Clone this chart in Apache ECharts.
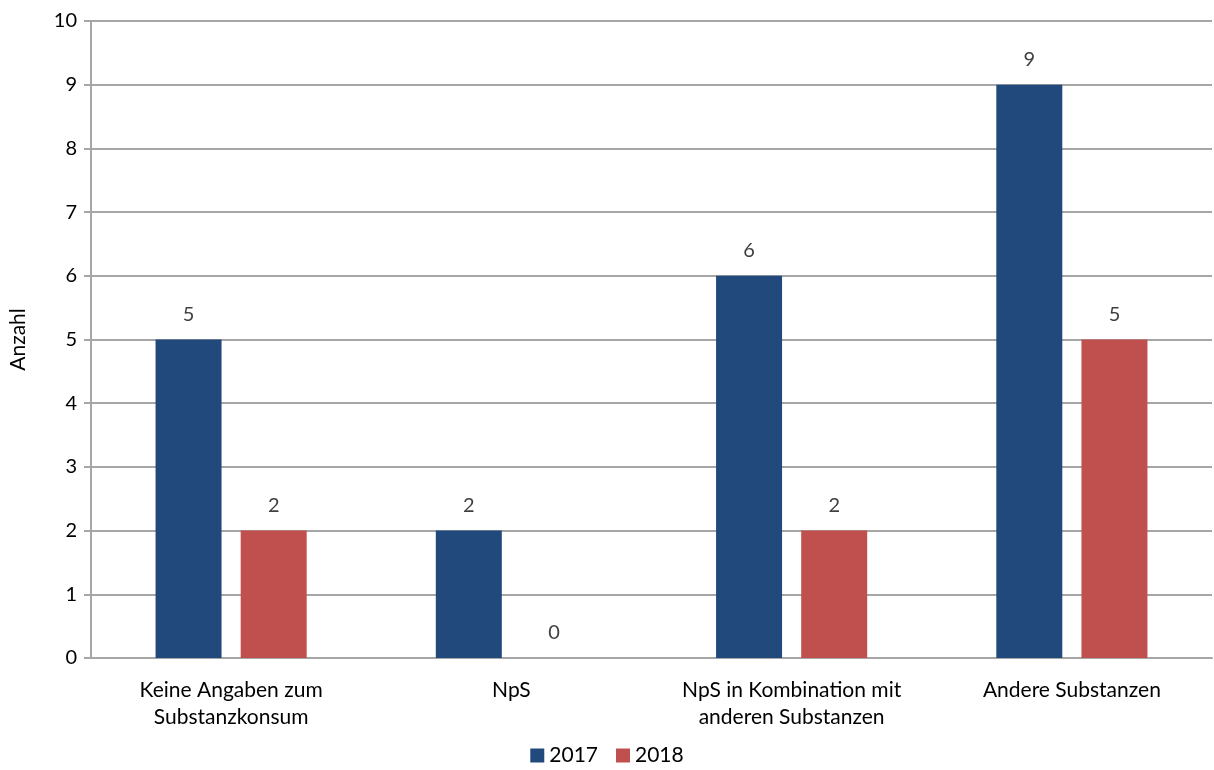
<!DOCTYPE html>
<html><head><meta charset="utf-8">
<script src="https://cdn.jsdelivr.net/npm/echarts@6/dist/echarts.min.js"></script>
<style>html,body{margin:0;padding:0;background:#fff}#c{width:1214px;height:770px}</style>
</head><body><div id="c"></div>
<script>
const categories = ["Keine Angaben zum\nSubstanzkonsum", "NpS", "NpS in Kombination mit\nanderen Substanzen", "Andere Substanzen"];
const values2017 = [5, 2, 6, 9];
const values2018 = [2, 0, 2, 5];
const seriesNames = ["2017", "2018"];
const yAxisName = "Anzahl";

const font = "Lato, 'Open Sans', sans-serif";
const chart = echarts.init(document.getElementById('c'), null, {renderer: 'canvas'});
const label = {show: true, position: 'top', distance: 15, color: '#404040', fontSize: 20, fontFamily: font};
chart.setOption({
  animation: false,
  textStyle: {fontFamily: font},
  grid: {left: 90, right: 2, top: 21, bottom: 112, containLabel: false},
  legend: {
    top: 745, left: 'center', itemWidth: 14, itemHeight: 14, itemGap: 18,
    icon: 'rect', padding: 0,
    textStyle: {fontSize: 21, color: '#000', fontFamily: font},
    data: seriesNames
  },
  xAxis: {
    type: 'category', data: categories,
    axisLine: {lineStyle: {color: '#a6a6a6', width: 2}},
    axisTick: {show: false},
    axisLabel: {color: '#000', fontSize: 21, lineHeight: 27, margin: 19, fontFamily: font, interval: 0}
  },
  yAxis: {
    type: 'value', min: 0, max: 10, interval: 1,
    name: yAxisName, nameLocation: 'middle', nameGap: 62, nameRotate: 90,
    nameTextStyle: {color: '#000', fontSize: 21, fontFamily: font},
    axisLine: {show: true, lineStyle: {color: '#a6a6a6', width: 2}},
    axisTick: {show: true, length: 7, lineStyle: {color: '#a6a6a6', width: 2}},
    splitLine: {lineStyle: {color: '#a6a6a6', width: 2}},
    axisLabel: {color: '#000', fontSize: 20, margin: 14, fontFamily: font}
  },
  series: [
    {name: seriesNames[0], type: 'bar', data: values2017, barWidth: 66, barGap: '29%', itemStyle: {color: '#21497C'}, label: label},
    {name: seriesNames[1], type: 'bar', data: values2018, barWidth: 66, itemStyle: {color: '#C0504D'}, label: label}
  ]
});
</script></body></html>
